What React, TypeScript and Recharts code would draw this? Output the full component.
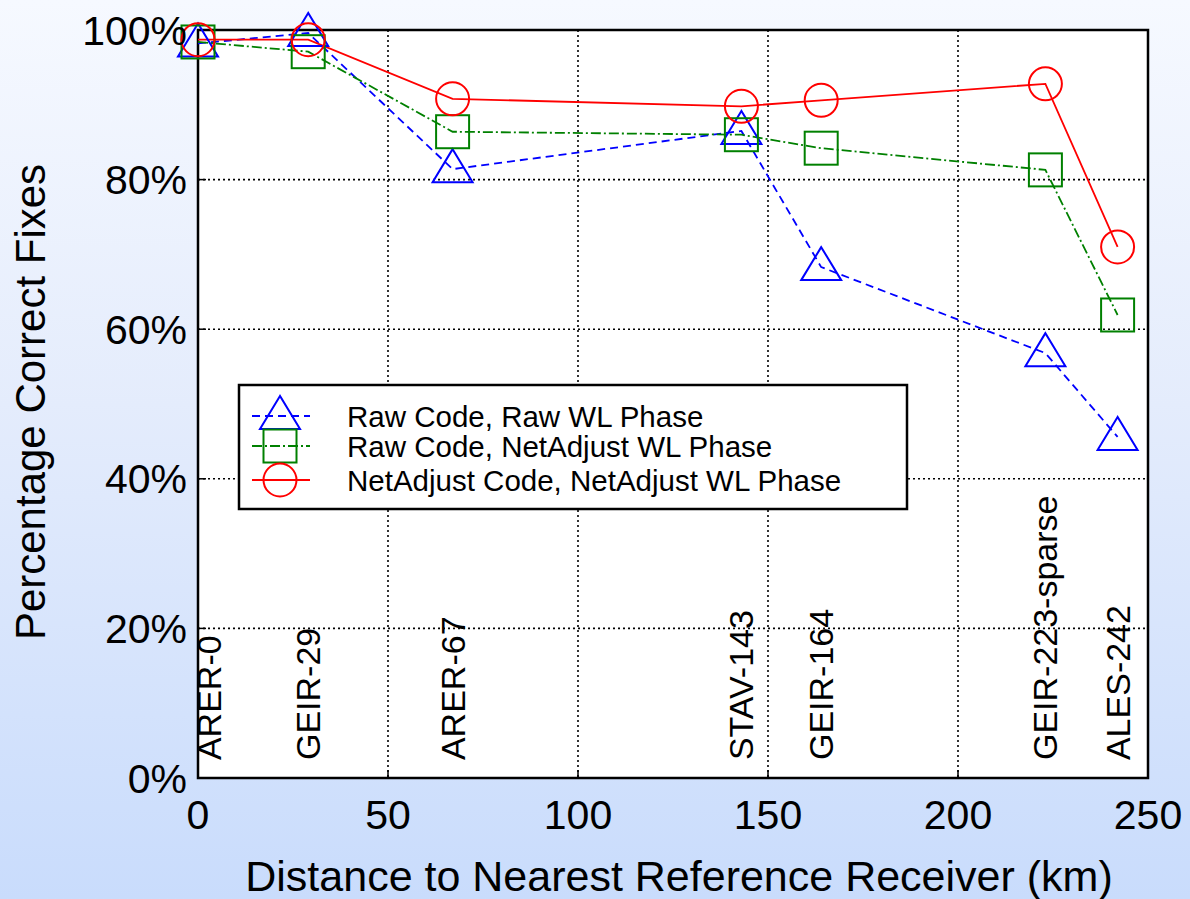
import React from 'react';
import {
  LineChart,
  Line,
  XAxis,
  YAxis,
  CartesianGrid,
  ReferenceArea,
  ReferenceDot,
  Legend,
} from 'recharts';

// ---- data ----
const distances = [0, 29, 67, 143, 164, 223, 242];
const stations = ['ARER-0', 'GEIR-29', 'ARER-67', 'STAV-143', 'GEIR-164', 'GEIR-223-sparse', 'ALES-242'];
const stationLabelX = [3, 29, 67, 143, 164, 223, 242];
const stationLabelY = 2.4;
const rawCodeRawWL = [98.2, 99.6, 81.4, 86.5, 68.3, 56.8, 45.6];
const rawCodeNetWL = [98.4, 97.1, 86.4, 86.0, 84.2, 81.3, 61.9];
const netCodeNetWL = [98.7, 98.7, 90.8, 89.8, 90.6, 92.8, 71.0];
const xTicks = [0, 50, 100, 150, 200, 250];
const yTicks = [0, 20, 40, 60, 80, 100];
const seriesNames = [
  'Raw Code, Raw WL Phase',
  'Raw Code, NetAdjust WL Phase',
  'NetAdjust Code, NetAdjust WL Phase',
];
const seriesKeys = ['rawRaw', 'rawNet', 'netNet'];

const data = distances.map((d, i) => ({
  distance: d,
  rawRaw: rawCodeRawWL[i],
  rawNet: rawCodeNetWL[i],
  netNet: netCodeNetWL[i],
}));

const FONT = '"Liberation Sans", Arial, Helvetica, sans-serif';
const BLUE = '#0000ff';
const GREEN = '#008000';
const RED = '#ff0000';
const colors = [BLUE, GREEN, RED];
const dashes = ['8 5', '10 3 2 3', undefined];
const markerKinds = ['triangle', 'square', 'circle'];

function Marker({ kind, cx, cy, color }: { kind: string; cx: number; cy: number; color: string }) {
  if (kind === 'triangle') {
    const pts = `${cx},${cy - 20} ${cx - 20},${cy + 13} ${cx + 20},${cy + 13}`;
    return <polygon points={pts} fill="none" stroke={color} strokeWidth={2} />;
  }
  if (kind === 'square') {
    return <rect x={cx - 16.5} y={cy - 16.5} width={33} height={33} fill="none" stroke={color} strokeWidth={2} />;
  }
  return <ellipse cx={cx} cy={cy} rx={16.5} ry={16.5} fill="none" stroke={color} strokeWidth={2} />;
}

const makeDot = (kind: string, color: string) => (props: any) => {
  const { cx, cy, index } = props;
  if (cx == null || cy == null) return <g key={`d-${kind}-${index}`} />;
  return (
    <g key={`d-${kind}-${index}`}>
      <Marker kind={kind} cx={cx} cy={cy} color={color} />
    </g>
  );
};

const LegendBox = () => {
  const rowY = [32, 62, 96];
  return (
    <svg width={670} height={126} style={{ display: 'block', overflow: 'visible' }}>
      <rect x={1} y={1} width={668} height={124} fill="#fff" stroke="#000" strokeWidth={2.5} />
      {seriesNames.map((name, i) => (
        <g key={name}>
          <line
            x1={14}
            x2={72}
            y1={rowY[i]}
            y2={rowY[i]}
            stroke={colors[i]}
            strokeWidth={2}
            strokeDasharray={dashes[i]}
          />
          <Marker kind={markerKinds[i]} cx={42} cy={rowY[i]} color={colors[i]} />
          <text x={109} y={rowY[i] + 11} fontSize={29.5} fontFamily={FONT} fill="#000">
            {name}
          </text>
        </g>
      ))}
    </svg>
  );
};

const StationLabel = (text: string) => (props: any) => {
  const vb = props.viewBox || {};
  const cx = vb.x + (vb.width || 0) / 2;
  const cy = vb.y + (vb.height || 0) / 2;
  const bx = cx + 12;
  return (
    <text
      x={bx}
      y={cy}
      transform={`rotate(-90, ${bx}, ${cy})`}
      fontSize={34}
      fontFamily={FONT}
      fill="#000"
      textAnchor="start"
    >
      {text}
    </text>
  );
};

const XTitle = (props: any) => {
  const vb = props.viewBox;
  return (
    <text
      x={vb.x + vb.width / 2 + 6}
      y={vb.y + vb.height - 8}
      textAnchor="middle"
      fontSize={43}
      fontFamily={FONT}
      fill="#000"
    >
      Distance to Nearest Reference Receiver (km)
    </text>
  );
};

const YTitle = (props: any) => {
  const vb = props.viewBox;
  const x = vb.x + 37;
  const y = vb.y + vb.height / 2 - 2;
  return (
    <text
      x={x}
      y={y}
      transform={`rotate(-90, ${x}, ${y})`}
      textAnchor="middle"
      fontSize={42}
      fontFamily={FONT}
      fill="#000"
    >
      Percentage Correct Fixes
    </text>
  );
};

export default function App() {
  return (
    <div
      style={{
        width: 1190,
        height: 899,
        position: 'relative',
        background: 'linear-gradient(to bottom, #f6f9ff 0%, #e4ecfc 45%, #c9dcfc 100%)',
        fontFamily: FONT,
      }}
    >
      <style>{'body{margin:0;}'}</style>
      <LineChart
        width={1190}
        height={899}
        data={data}
        margin={{ top: 30, right: 42, left: 8, bottom: 0 }}
      >
        <CartesianGrid
          fill="#ffffff"
          stroke="#000"
          strokeWidth={1.6}
          strokeDasharray="2 3"
          xAxisId="bottom"
          yAxisId="left"
        />
        <XAxis
          xAxisId="bottom"
          dataKey="distance"
          type="number"
          domain={[0, 250]}
          ticks={xTicks}
          height={121}
          axisLine={false}
          tickSize={-8}
          tickMargin={30}
          tickLine={{ stroke: '#000', strokeWidth: 1.5 }}
          tick={{ fill: '#000', fontSize: 41, fontFamily: FONT }}
          interval={0}
          label={<XTitle />}
        />
        <XAxis
          xAxisId="top"
          orientation="top"
          dataKey="distance"
          type="number"
          domain={[0, 250]}
          ticks={xTicks}
          height={0}
          axisLine={false}
          tickSize={-8}
          tick={false}
          tickLine={{ stroke: '#000', strokeWidth: 1.5 }}
        />
        <YAxis
          yAxisId="left"
          type="number"
          domain={[0, 100]}
          ticks={yTicks}
          width={190}
          axisLine={false}
          tickSize={-8}
          tickMargin={19}
          tickLine={{ stroke: '#000', strokeWidth: 1.5 }}
          tick={{ fill: '#000', fontSize: 41, fontFamily: FONT }}
          tickFormatter={(v: number) => `${v}%`}
          interval={0}
          label={<YTitle />}
        />
        <YAxis
          yAxisId="right"
          orientation="right"
          type="number"
          domain={[0, 100]}
          ticks={yTicks}
          width={0}
          axisLine={false}
          tickSize={-8}
          tick={false}
          tickLine={{ stroke: '#000', strokeWidth: 1.5 }}
        />
        <ReferenceArea
          xAxisId="bottom"
          yAxisId="left"
          x1={0}
          x2={250}
          y1={0}
          y2={100}
          fill="none"
          fillOpacity={0}
          stroke="#000"
          strokeWidth={2.5}
          ifOverflow="visible"
        />
        {stations.map((s, i) => (
          <ReferenceDot
            key={s}
            xAxisId="bottom"
            yAxisId="left"
            x={stationLabelX[i]}
            y={stationLabelY}
            r={0}
            fill="none"
            stroke="none"
            label={StationLabel(s)}
          />
        ))}
        {seriesKeys.map((k, i) => (
          <Line
            key={k}
            xAxisId="bottom"
            yAxisId="left"
            type="linear"
            dataKey={k}
            name={seriesNames[i]}
            stroke={colors[i]}
            strokeWidth={1.8}
            strokeDasharray={dashes[i]}
            dot={makeDot(markerKinds[i], colors[i])}
            activeDot={false}
            isAnimationActive={false}
          />
        ))}
        <Legend
          layout="vertical"
          align="center"
          verticalAlign="middle"
          content={<LegendBox />}
          wrapperStyle={{ left: 238, top: 384, width: 670, height: 126 }}
        />
      </LineChart>
    </div>
  );
}
